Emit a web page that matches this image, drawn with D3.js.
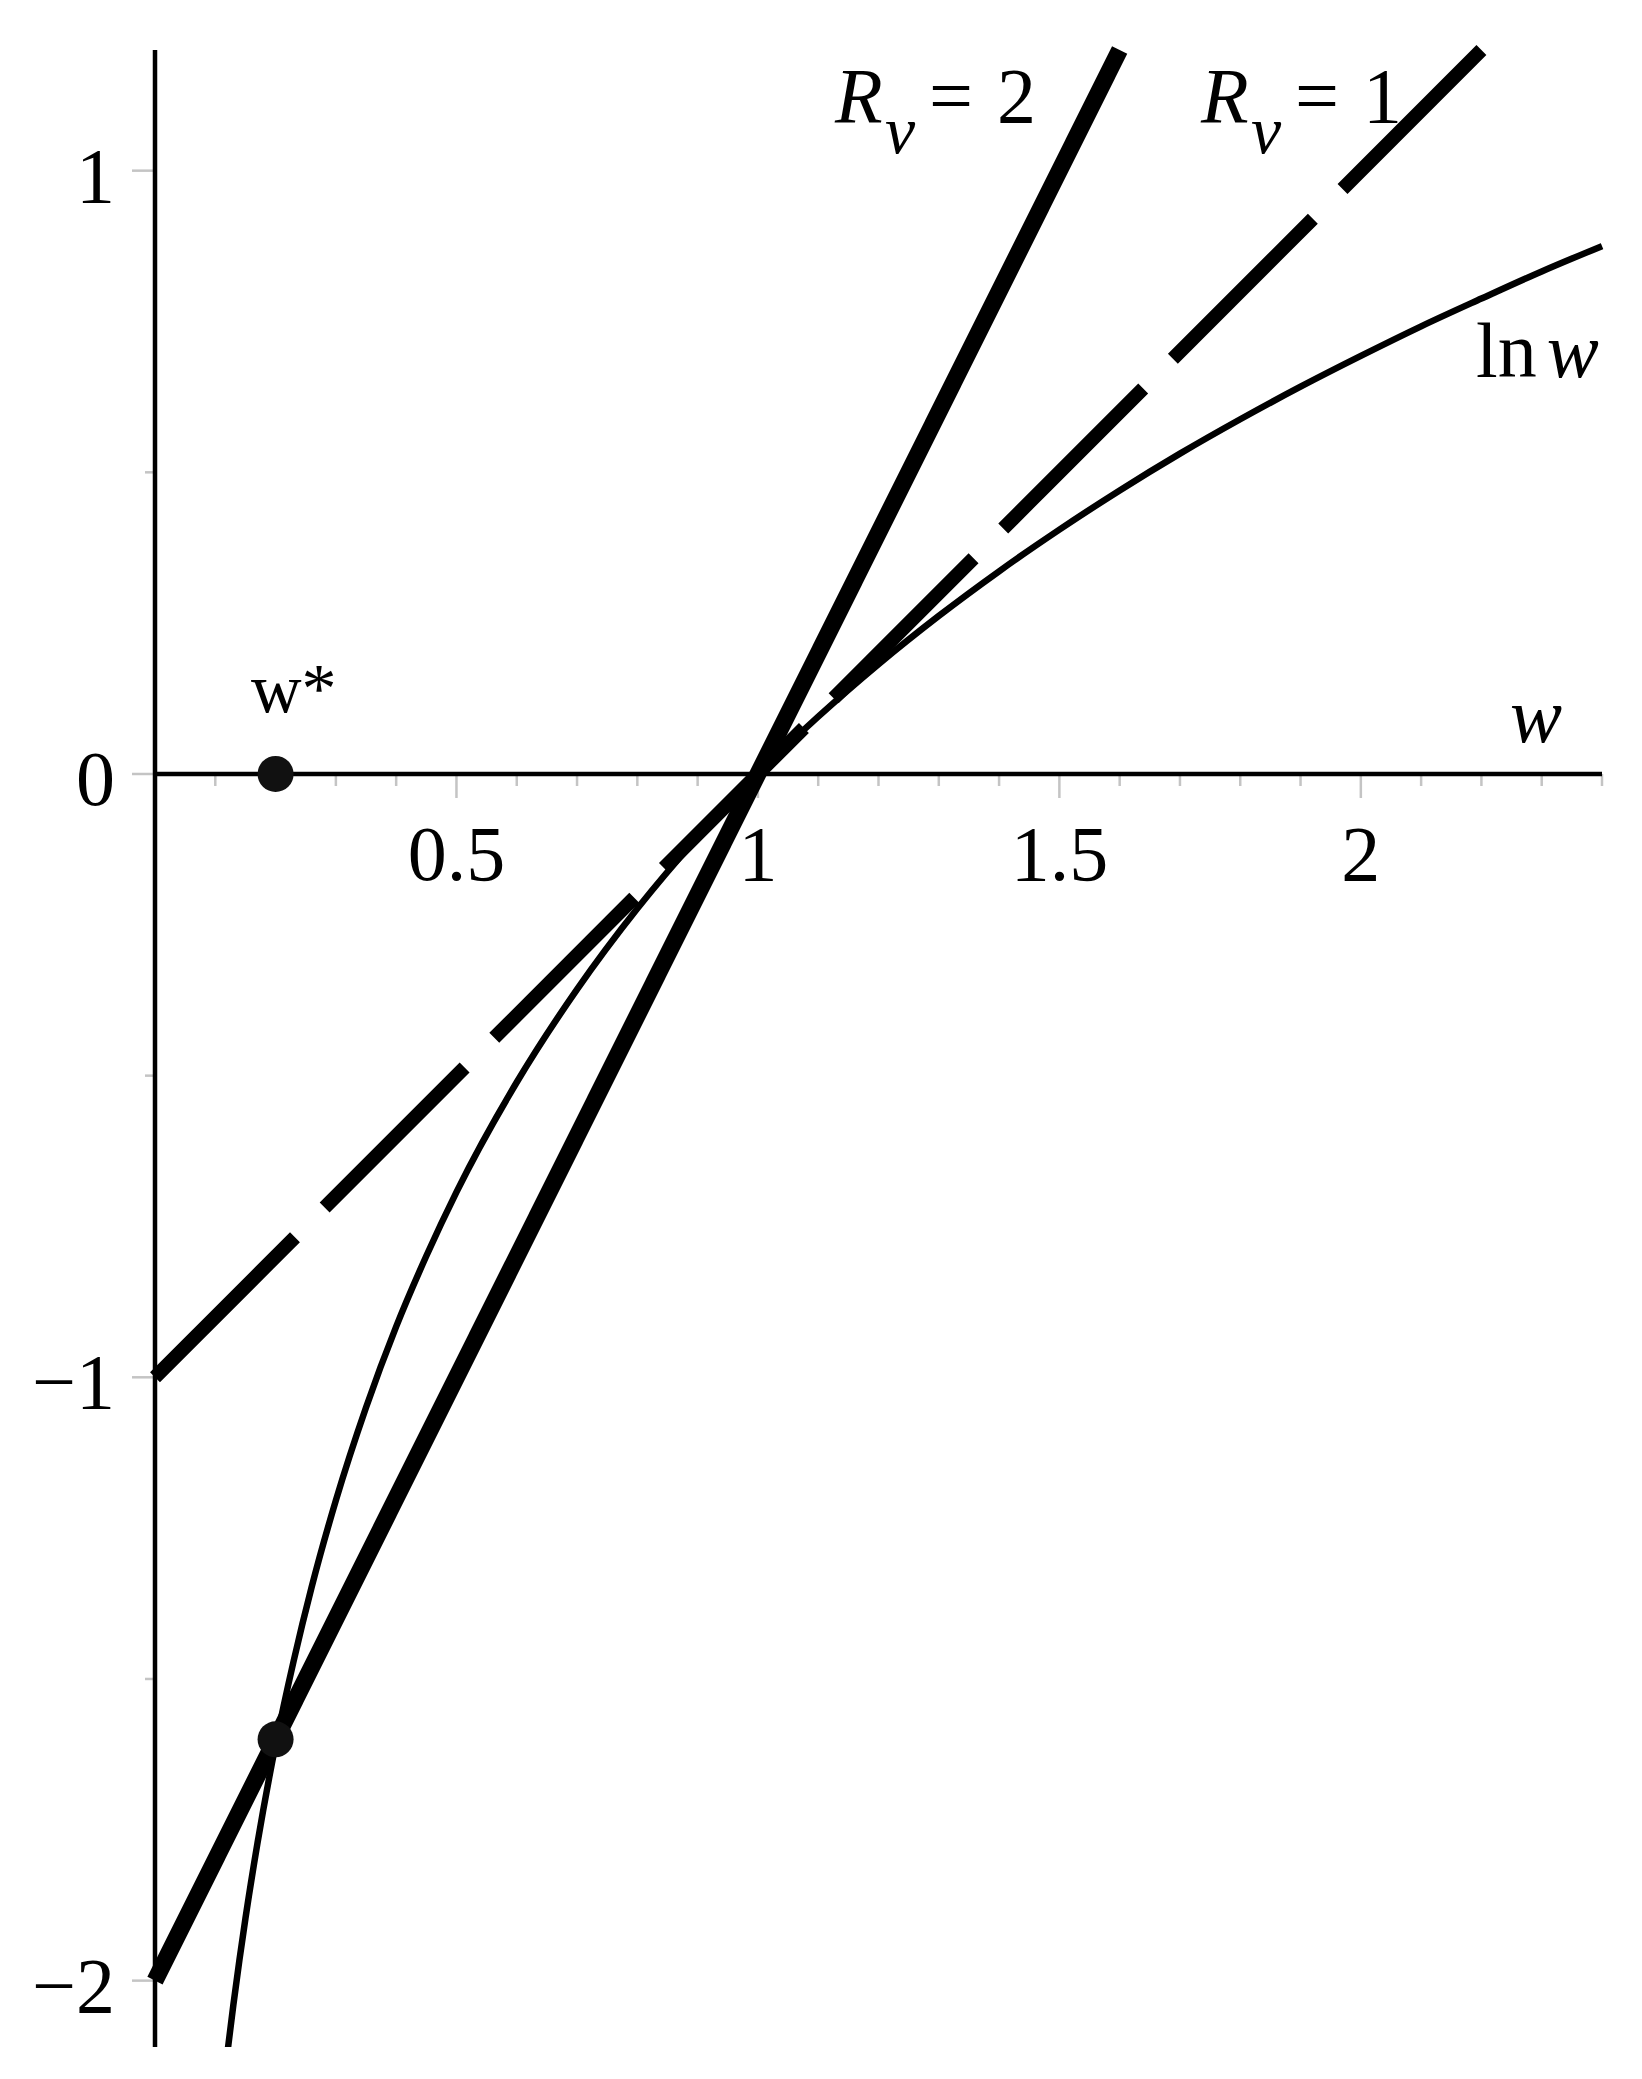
<!DOCTYPE html>
<html>
<head>
<meta charset="utf-8">
<script src="https://cdn.jsdelivr.net/npm/d3@7"></script>
<style>
  html, body { margin: 0; padding: 0; background: #ffffff; }
  svg { display: block; }
  text { font-family: "Liberation Serif", "Times New Roman", serif; fill: #000; }
</style>
</head>
<body>
<script>
// ---- data ----
const xDomain = [0, 2.4];
const yDomain = [-2.11, 1.2];
const xMajorTicks = [0.5, 1, 1.5, 2];
const xTickLabels = ["0.5", "1", "1.5", "2"];
const xMinorTicks = [0.1, 0.2, 0.3, 0.4, 0.6, 0.7, 0.8, 0.9, 1.1, 1.2, 1.3, 1.4, 1.6, 1.7, 1.8, 1.9, 2.1, 2.2, 2.3, 2.4];
const yMajorTicks = [-2, -1, 0, 1];
const yTickLabels = ["\u22122", "\u22121", "0", "1"];
const yMinorTicks = [-1.5, -0.5, 0.5];

// ln w curve
const lnW = [0.12, 0.13, 0.14, 0.15, 0.17, 0.2, 0.23, 0.26, 0.3, 0.35, 0.4, 0.45, 0.5, 0.6, 0.7, 0.8, 0.9, 1.0, 1.1, 1.2, 1.3, 1.4, 1.5, 1.6, 1.7, 1.8, 1.9, 2.0, 2.1, 2.2, 2.3, 2.4];
const lnV = [-2.120, -2.040, -1.966, -1.897, -1.772, -1.609, -1.470, -1.347, -1.204, -1.050, -0.916, -0.799, -0.693, -0.511, -0.357, -0.223, -0.105, 0, 0.095, 0.182, 0.262, 0.336, 0.405, 0.470, 0.531, 0.588, 0.642, 0.693, 0.742, 0.788, 0.833, 0.875];

// R_v = 2 line and R_v = 1 line (end points)
const rv2W = [0, 1.6];
const rv2V = [-2, 1.2];
const rv1W = [0, 2.2];
const rv1V = [-1, 1.2];

// marked points
const dotW = [0.2, 0.2];
const dotV = [0, -1.6];

// ---- drawing ----
const W = 1642, H = 2079;
const svg = d3.select("body").append("svg").attr("width", W).attr("height", H);
svg.append("rect").attr("width", W).attr("height", H).attr("fill", "#fff");

const x = d3.scaleLinear().domain(xDomain).range([155, 1602]);
const y = d3.scaleLinear().domain(yDomain).range([2047, 50]);

const defs = svg.append("defs");
defs.append("clipPath").attr("id", "clip")
  .append("rect").attr("x", 0).attr("y", 0).attr("width", W).attr("height", y(yDomain[0]));

// ticks (gray)
const tickColor = "#c4c4c4";
const gt = svg.append("g");
gt.selectAll("line.xmaj").data(xMajorTicks).enter().append("line")
  .attr("x1", d => x(d)).attr("x2", d => x(d))
  .attr("y1", y(0)).attr("y2", y(0) + 24)
  .attr("stroke", tickColor).attr("stroke-width", 2.5);
gt.selectAll("line.xmin").data(xMinorTicks).enter().append("line")
  .attr("x1", d => x(d)).attr("x2", d => x(d))
  .attr("y1", y(0)).attr("y2", y(0) + 12)
  .attr("stroke", tickColor).attr("stroke-width", 2.5);
gt.selectAll("line.ymaj").data(yMajorTicks).enter().append("line")
  .attr("x1", x(0) - 23).attr("x2", x(0))
  .attr("y1", d => y(d)).attr("y2", d => y(d))
  .attr("stroke", tickColor).attr("stroke-width", 2.5);
gt.selectAll("line.ymin").data(yMinorTicks).enter().append("line")
  .attr("x1", x(0) - 10).attr("x2", x(0))
  .attr("y1", d => y(d)).attr("y2", d => y(d))
  .attr("stroke", tickColor).attr("stroke-width", 2.5);

// axes
svg.append("line").attr("x1", x(0)).attr("x2", x(0))
  .attr("y1", y(yDomain[1])).attr("y2", y(yDomain[0]))
  .attr("stroke", "#000").attr("stroke-width", 4.5);
svg.append("line").attr("x1", x(0)).attr("x2", x(xDomain[1]))
  .attr("y1", y(0)).attr("y2", y(0))
  .attr("stroke", "#000").attr("stroke-width", 4.5);

// tick labels
const fs = 78;
svg.selectAll("text.xl").data(xMajorTicks).enter().append("text")
  .attr("x", d => x(d)).attr("y", y(0) + 106)
  .attr("text-anchor", "middle").attr("font-size", fs)
  .text((d, i) => xTickLabels[i]);
svg.selectAll("text.yl").data(yMajorTicks).enter().append("text")
  .attr("x", 115).attr("y", d => y(d) + 31)
  .attr("text-anchor", "end").attr("font-size", fs)
  .text((d, i) => yTickLabels[i]);

// curves
const plot = svg.append("g").attr("clip-path", "url(#clip)");
const lineGen = d3.line().x(d => x(d[0])).y(d => y(d[1]));

plot.append("path")
  .attr("d", lineGen.curve(d3.curveMonotoneX)(lnW.map((w, i) => [w, lnV[i]])))
  .attr("fill", "none").attr("stroke", "#000").attr("stroke-width", 6.5);

const straight = d3.line().x(d => x(d[0])).y(d => y(d[1]));
svg.append("path")
  .attr("d", straight(rv1W.map((w, i) => [w, rv1V[i]])))
  .attr("fill", "none").attr("stroke", "#000").attr("stroke-width", 14)
  .attr("stroke-dasharray", "198,42").attr("stroke-linecap", "butt");
svg.append("path")
  .attr("d", straight(rv2W.map((w, i) => [w, rv2V[i]])))
  .attr("fill", "none").attr("stroke", "#000").attr("stroke-width", 17)
  .attr("stroke-linecap", "butt");

// dots
svg.selectAll("circle.dot").data(dotW).enter().append("circle")
  .attr("cx", d => x(d)).attr("cy", (d, i) => y(dotV[i]))
  .attr("r", 18).attr("fill", "#111");

// labels
function rvLabel(x0, base, digit) {
  const t = svg.append("text").attr("font-size", fs).attr("y", base);
  t.append("tspan").attr("x", x0).attr("font-style", "italic").text("R");
  t.append("tspan").attr("x", x0 + 50).attr("dy", 31).attr("font-style", "italic").attr("font-size", 68).text("v");
  t.append("tspan").attr("x", x0 + 94).attr("dy", -31).text("=");
  t.append("tspan").attr("x", x0 + 162).text(digit);
}
rvLabel(835, 122, "2");
rvLabel(1201, 122, "1");

const ln = svg.append("text").attr("font-size", fs).attr("x", 1476).attr("y", 377);
ln.append("tspan").text("ln");
ln.append("tspan").attr("dx", 10).attr("font-style", "italic").text("w");

svg.append("text").attr("font-size", fs).attr("font-style", "italic")
  .attr("x", 1510).attr("y", 742).text("w");

svg.append("text").attr("font-size", 70)
  .attr("x", 251).attr("y", 712).text("w*");
</script>
</body>
</html>
